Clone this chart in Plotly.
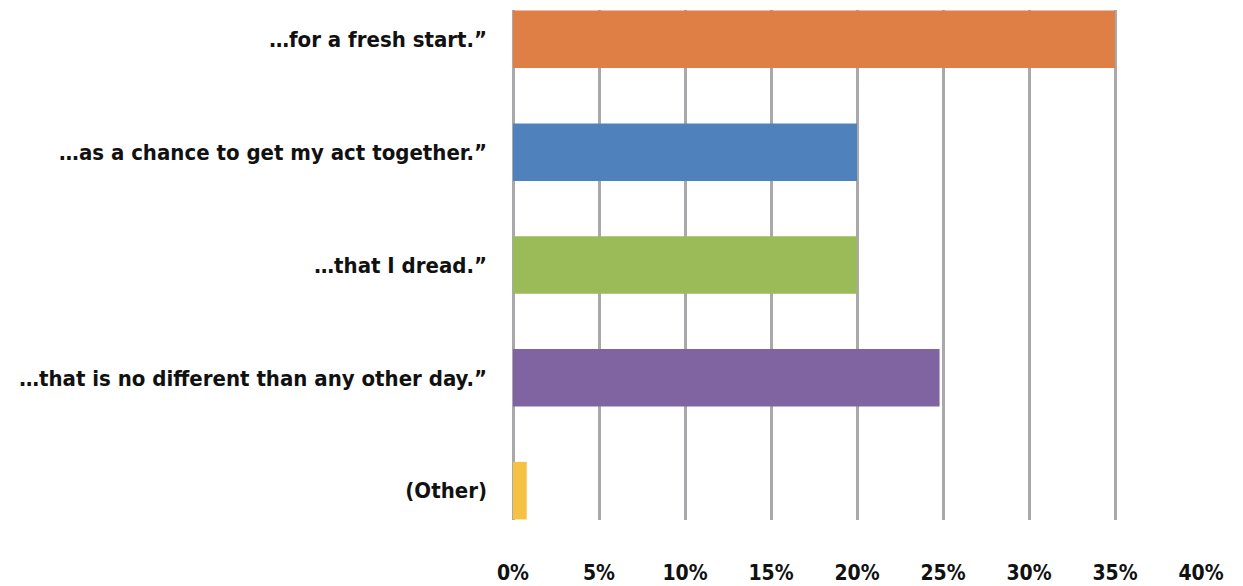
import plotly.graph_objects as go

categories = [
    "…for a fresh start.”",
    "…as a chance to get my act together.”",
    "…that I dread.”",
    "…that is no different than any other day.”",
    "(Other)",
]
values = [35.0, 20.0, 20.0, 24.8, 0.8]
colors = ["#E07F45", "#4F81BD", "#9BBB59", "#8064A2", "#F6C244"]
tick_vals = [0, 5, 10, 15, 20, 25, 30, 35, 40]
tick_text = ["0%", "5%", "10%", "15%", "20%", "25%", "30%", "35%", "40%"]

FONT = "DejaVu Sans Condensed, Roboto Condensed, Roboto, sans-serif"

fig = go.Figure(
    go.Bar(
        y=categories,
        x=values,
        orientation="h",
        marker=dict(color=colors, line=dict(width=0)),
        width=0.51,
    )
)

fig.update_layout(
    width=1243,
    height=586,
    margin=dict(l=505, r=50, t=2, b=74),
    plot_bgcolor="white",
    paper_bgcolor="white",
    showlegend=False,
    font=dict(family=FONT, color="#111111"),
)

fig.update_xaxes(
    range=[0, 40],
    tickvals=tick_vals,
    ticktext=tick_text,
    showgrid=True,
    gridcolor="#A9A9AC",
    gridwidth=3,
    zeroline=True,
    zerolinecolor="#A9A9AC",
    zerolinewidth=3,
    showline=False,
    ticks="",
    ticklabelstandoff=38,
    tickfont=dict(family=FONT, size=21, color="#111111", weight="bold"),
    fixedrange=True,
)

fig.update_yaxes(
    categoryorder="array",
    categoryarray=categories,
    range=[4.26, -0.26],
    showgrid=False,
    zeroline=False,
    showline=False,
    ticks="",
    ticklabelstandoff=25,
    tickfont=dict(family=FONT, size=22, color="#111111", weight="bold"),
    fixedrange=True,
)

fig.write_html("out.html")
